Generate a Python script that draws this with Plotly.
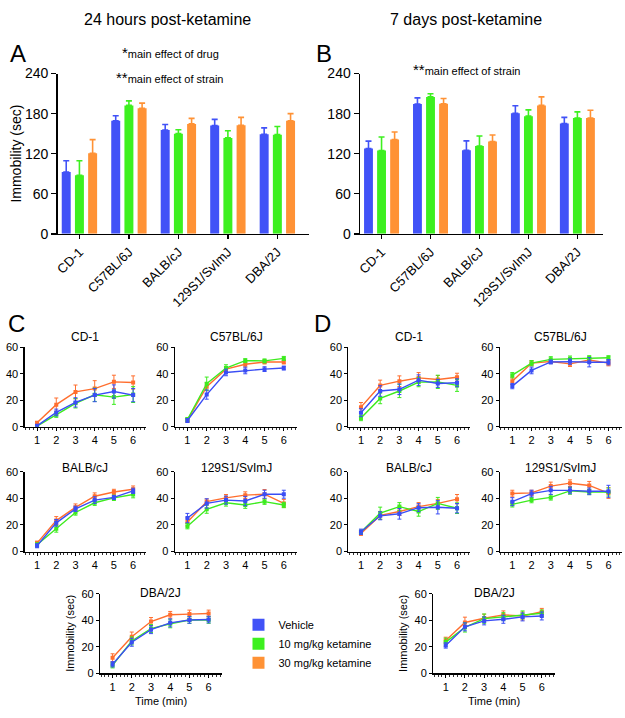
import plotly.graph_objects as go

# ---------------- data ----------------
STRAINS = ["CD-1", "C57BL/6J", "BALB/cJ", "129S1/SvImJ", "DBA/2J"]
GROUPS = ["Vehicle", "10 mg/kg ketamine", "30 mg/kg ketamine"]
MINUTES = [1, 2, 3, 4, 5, 6]

# Panel A: 24 h post-ketamine, total immobility (sec), mean and SEM
A_VEH = [92.5, 169.4, 155.3, 162.0, 149.0]
A_VEH_ERR = [17.0, 7.3, 8.3, 9.4, 9.7]
A_K10 = [87.6, 192.3, 150.0, 143.6, 148.5]
A_K10_ERR = [21.9, 6.7, 5.8, 10.7, 12.2]
A_K30 = [120.7, 188.0, 164.6, 162.6, 169.4]
A_K30_ERR = [20.3, 7.7, 8.2, 11.7, 10.6]

# Panel B: 7 days post-ketamine
B_VEH = [127.6, 194.3, 125.1, 180.6, 165.0]
B_VEH_ERR = [11.2, 9.2, 14.1, 11.2, 9.3]
B_K10 = [124.6, 205.0, 131.4, 176.2, 173.3]
B_K10_ERR = [20.4, 4.8, 15.1, 9.3, 9.3]
B_K30 = [141.2, 194.7, 138.3, 192.3, 173.3]
B_K30_ERR = [11.2, 7.8, 9.7, 12.7, 11.7]

# Panel C: 24 h, immobility per minute (one row per strain)
C_VEH = [[0.7, 10.8, 18.4, 23.9, 26.6, 23.9],
         [4.7, 24.3, 41.0, 42.5, 43.5, 44.3],
         [4.4, 21.6, 32.1, 38.7, 40.7, 45.6],
         [25.2, 36.2, 38.7, 38.0, 43.1, 43.1],
         [6.8, 23.4, 32.9, 38.0, 40.2, 40.5]]
C_VEH_ERR = [[1, 2.5, 3.5, 5, 5, 5],
             [1.5, 3.5, 2.5, 2.5, 1.8, 1.5],
             [1.5, 2.5, 2, 2.5, 1.5, 2],
             [3.5, 3.5, 3, 3.5, 3, 3],
             [2, 3, 3, 3, 2.5, 2.5]]
C_K10 = [[0.5, 9.1, 17.7, 24.1, 22.4, 24.3],
         [5.5, 32.5, 44.3, 49.9, 49.7, 51.6],
         [5.1, 17.1, 29.4, 36.7, 40.4, 42.9],
         [19.1, 31.8, 36.7, 35.0, 37.5, 35.0],
         [6.1, 24.4, 33.7, 37.3, 40.2, 40.2]]
C_K10_ERR = [[1, 2, 3.5, 5, 5.5, 6],
             [1.5, 5, 2.5, 1.5, 1.5, 1.5],
             [1.5, 2.5, 2, 2, 2, 2.5],
             [2, 3, 2.5, 2.5, 2, 2],
             [2, 3, 3, 3, 2.5, 2.5]]
C_K30 = [[3.0, 16.7, 26.3, 28.8, 33.9, 33.4],
         [5.0, 30.2, 43.5, 47.2, 48.9, 48.9],
         [6.4, 23.3, 33.3, 41.6, 44.8, 46.8],
         [22.3, 37.5, 40.4, 42.4, 43.1, 36.2],
         [11.7, 27.6, 39.0, 44.1, 44.6, 45.1]]
C_K30_ERR = [[1, 5, 5.2, 6, 5, 5],
             [1.5, 3, 2, 2, 1.5, 1.5],
             [1.5, 3, 2.5, 2.5, 2, 2.5],
             [3, 2, 2.5, 2.5, 3.5, 3],
             [3, 3.5, 3, 2.5, 3, 2.5]]

# Panel D: 7 days, immobility per minute
D_VEH = [[10.6, 27.0, 28.3, 35.2, 32.7, 33.2],
         [30.7, 42.5, 48.9, 49.2, 48.7, 48.7],
         [14.9, 26.9, 28.4, 33.0, 33.3, 32.6],
         [37.5, 43.6, 46.0, 46.0, 45.3, 45.3],
         [21.0, 35.0, 39.5, 40.7, 42.5, 43.2]]
D_VEH_ERR = [[3, 4, 4, 4, 3, 3],
             [2, 2.5, 1.5, 2, 3.5, 2],
             [2, 3, 4, 3, 5, 3.5],
             [3, 2.5, 3, 2.5, 2.5, 4.5],
             [2, 3, 3, 3, 3, 3]]
D_K10 = [[6.6, 21.4, 27.0, 33.7, 33.9, 31.2],
         [38.9, 48.0, 50.9, 51.4, 52.1, 52.1],
         [14.7, 28.9, 33.8, 30.1, 36.2, 32.6],
         [35.5, 38.7, 40.7, 45.6, 44.8, 44.8],
         [23.5, 34.6, 41.2, 42.7, 44.0, 45.2]]
D_K10_ERR = [[2, 4, 5, 3.5, 5, 4.5],
             [2, 2, 2, 2, 1.5, 1.5],
             [1.5, 4.5, 3, 3.5, 4.5, 4],
             [2, 2, 2, 2.5, 2, 3],
             [3, 3.5, 3.5, 3, 3, 2.5]]
D_K30 = [[14.8, 31.2, 34.4, 36.9, 35.7, 37.4],
         [34.4, 48.0, 49.2, 47.5, 50.4, 48.0],
         [13.7, 27.2, 30.1, 33.8, 36.2, 39.4],
         [43.6, 44.1, 49.2, 51.4, 49.7, 44.0],
         [24.7, 38.3, 41.5, 44.0, 43.2, 46.4]]
D_K30_ERR = [[3.5, 4, 4, 4, 3, 3],
             [2.5, 2, 1.5, 2, 2, 2],
             [1.5, 3, 3, 3, 3, 3.5],
             [2.5, 2, 3, 2.5, 3, 4],
             [2.5, 4, 3, 3, 3, 2.5]]

BAR_TICKS = [0, 60, 120, 180, 240]
LINE_TICKS = [0, 20, 40, 60]

# ---------------- styling ----------------
W, H = 625, 718
FONT = "Arial, Liberation Sans, sans-serif"
BLUE = "#4152F7"
GREEN = "#3DF01F"
ORANGE = "#FF9235"
LINE_COLORS = ["#3A4DF5", "#3DEB1F", "#FF6E2E"]
BAR_COLORS = [BLUE, GREEN, ORANGE]


def px(x):
    return x / W


def py(y):
    return 1 - y / H


fig = go.Figure()
layout = dict(
    width=W, height=H, autosize=False,
    margin=dict(l=0, r=0, t=0, b=0),
    paper_bgcolor="white", plot_bgcolor="white",
    font=dict(family=FONT, color="black"),
    barmode="group", bargap=0.2, bargroupgap=0.32,
    showlegend=True,
    legend=dict(x=px(236), y=py(616), xanchor="left", yanchor="top",
                font=dict(size=11, family=FONT), bgcolor="rgba(0,0,0,0)",
                tracegroupgap=0, itemwidth=30, traceorder="normal"),
)
annotations = []


def axname(i, kind):
    return f"{kind}axis" if i == 1 else f"{kind}axis{i}"


def ref(i, kind):
    return kind if i == 1 else f"{kind}{i}"


# ---------------- bar panels ----------------
bar_sets = [
    (1, [(A_VEH, A_VEH_ERR), (A_K10, A_K10_ERR), (A_K30, A_K30_ERR)],
     (54, 307), [-0.44, 4.64]),
    (2, [(B_VEH, B_VEH_ERR), (B_K10, B_K10_ERR), (B_K30, B_K30_ERR)],
     (358.3, 602.7), [-0.44, 4.52]),
]
for idx, series, (xl, xr), xr_range in bar_sets:
    for g, (vals, errs) in enumerate(series):
        fig.add_trace(go.Bar(
            x=STRAINS, y=vals, name=GROUPS[g],
            marker=dict(color=BAR_COLORS[g], line=dict(width=0)),
            error_y=dict(type="data", array=errs, arrayminus=[0] * len(errs),
                         symmetric=False, color=BAR_COLORS[g],
                         thickness=1.6, width=3),
            xaxis=ref(idx, "x"), yaxis=ref(idx, "y"),
            showlegend=(idx == 1), legendgroup=GROUPS[g],
        ))
    layout[axname(idx, "x")] = dict(
        domain=[px(xl), px(xr)], range=xr_range, type="category",
        anchor=ref(idx, "y"), showline=True, linecolor="black", linewidth=1.5,
        ticks="outside", ticklen=4, tickwidth=1.3, tickcolor="black",
        tickangle=-45, tickfont=dict(size=13, family=FONT),
        showgrid=False, zeroline=False, fixedrange=True,
    )
    layout[axname(idx, "y")] = dict(
        domain=[py(231), py(67)], range=[0, 240], tickvals=BAR_TICKS,
        anchor=ref(idx, "x"), showline=True, linecolor="black", linewidth=1.5,
        ticks="outside", ticklen=5, tickwidth=1.3, tickcolor="black",
        tickfont=dict(size=14, family=FONT), showgrid=False, zeroline=False,
    )

# ---------------- line panels ----------------
row_y = {1: (347, 428.3), 2: (474.3, 556), 3: (599, 680.5)}
title_y = {1: 336, 2: 470, 3: 598}
panel_specs = [
    # (dataset, strain index, row, x-left, x-right)
    ("C", 0, 1, 20.7, 143.3), ("C", 1, 1, 172, 295),
    ("C", 2, 2, 20.7, 143.3), ("C", 3, 2, 172, 295),
    ("C", 4, 3, 96.7, 219.3),
    ("D", 0, 1, 346.7, 469.3), ("D", 1, 1, 499, 621.7),
    ("D", 2, 2, 346.7, 469.3), ("D", 3, 2, 499, 621.7),
    ("D", 4, 3, 432, 554.6),
]
datasets = {
    "C": [(C_VEH, C_VEH_ERR), (C_K10, C_K10_ERR), (C_K30, C_K30_ERR)],
    "D": [(D_VEH, D_VEH_ERR), (D_K10, D_K10_ERR), (D_K30, D_K30_ERR)],
}
for n, (ds, si, row, xl, xr) in enumerate(panel_specs):
    idx = n + 3
    ytop, ybot = row_y[row]
    for g in [2, 1, 0]:
        vals, errs = datasets[ds][g]
        fig.add_trace(go.Scatter(
            x=MINUTES, y=vals[si], mode="lines+markers", name=GROUPS[g],
            line=dict(color=LINE_COLORS[g], width=1.4),
            marker=dict(symbol="square", size=4, color=LINE_COLORS[g]),
            error_y=dict(type="data", array=errs[si], color=LINE_COLORS[g],
                         thickness=1, width=2),
            xaxis=ref(idx, "x"), yaxis=ref(idx, "y"), showlegend=False,
        ))
    layout[axname(idx, "x")] = dict(
        domain=[px(xl), px(xr)], range=[0.35, 6.69], tickvals=MINUTES,
        anchor=ref(idx, "y"), showline=True, linecolor="black", linewidth=1.2,
        ticks="outside", ticklen=3, tickwidth=1, tickcolor="black",
        minor=dict(ticks="outside", ticklen=2, dtick=0.2, tick0=0,
                   tickcolor="black", tickwidth=0.8),
        tickfont=dict(size=11, family=FONT), showgrid=False, zeroline=False,
    )
    layout[axname(idx, "y")] = dict(
        domain=[py(ybot), py(ytop)], range=[0, 60], tickvals=LINE_TICKS,
        anchor=ref(idx, "x"), showline=True, linecolor="black", linewidth=1.2,
        ticks="outside", ticklen=3, tickwidth=1, tickcolor="black",
        tickfont=dict(size=11, family=FONT), showgrid=False, zeroline=False,
    )
    annotations.append(dict(
        text=STRAINS[si], x=px((xl + xr) / 2), y=py(title_y[row]),
        xref="paper", yref="paper", showarrow=False,
        xanchor="center", yanchor="middle", font=dict(size=12, family=FONT)))
    if row == 3:
        annotations.append(dict(
            text="Time (min)", x=px((xl + xr) / 2), y=py(709),
            xref="paper", yref="paper", showarrow=False,
            xanchor="center", yanchor="middle", font=dict(size=11, family=FONT)))
        annotations.append(dict(
            text="Immobility (sec)", x=px(xl - 30), y=py((ytop + ybot) / 2),
            xref="paper", yref="paper", showarrow=False, textangle=-90,
            xanchor="center", yanchor="middle", font=dict(size=11, family=FONT)))

# ---------------- text annotations ----------------
def note(text, x, y, size, xanchor="center", angle=0):
    annotations.append(dict(
        text=text, x=px(x), y=py(y), xref="paper", yref="paper",
        showarrow=False, xanchor=xanchor, yanchor="middle", textangle=angle,
        font=dict(size=size, family=FONT, color="black")))


note("24 hours post-ketamine", 165, 12, 16)
note("7 days post-ketamine", 465, 12, 16)
note("A", 4, 47, 24, "left")
note("B", 312, 47, 24, "left")
note("C", 2, 323, 24, "left")
note("D", 310, 323, 24, "left")
note("Immobility (sec)", 12, 149, 14, angle=-90)
AST = "<span style='font-size:15px'>{}</span>"
note(AST.format("*") + "main effect of drug", 117, 46, 11, "left")
note(AST.format("**") + "main effect of strain", 111, 71, 11, "left")
note(AST.format("**") + "main effect of strain", 410, 63, 11, "left")

layout["annotations"] = annotations
fig.update_layout(**layout)
fig.write_html(
    "out.html",
    config={"displayModeBar": False, "staticPlot": True},
    post_script="document.body.style.margin='0';document.body.style.overflow='hidden';",
)
